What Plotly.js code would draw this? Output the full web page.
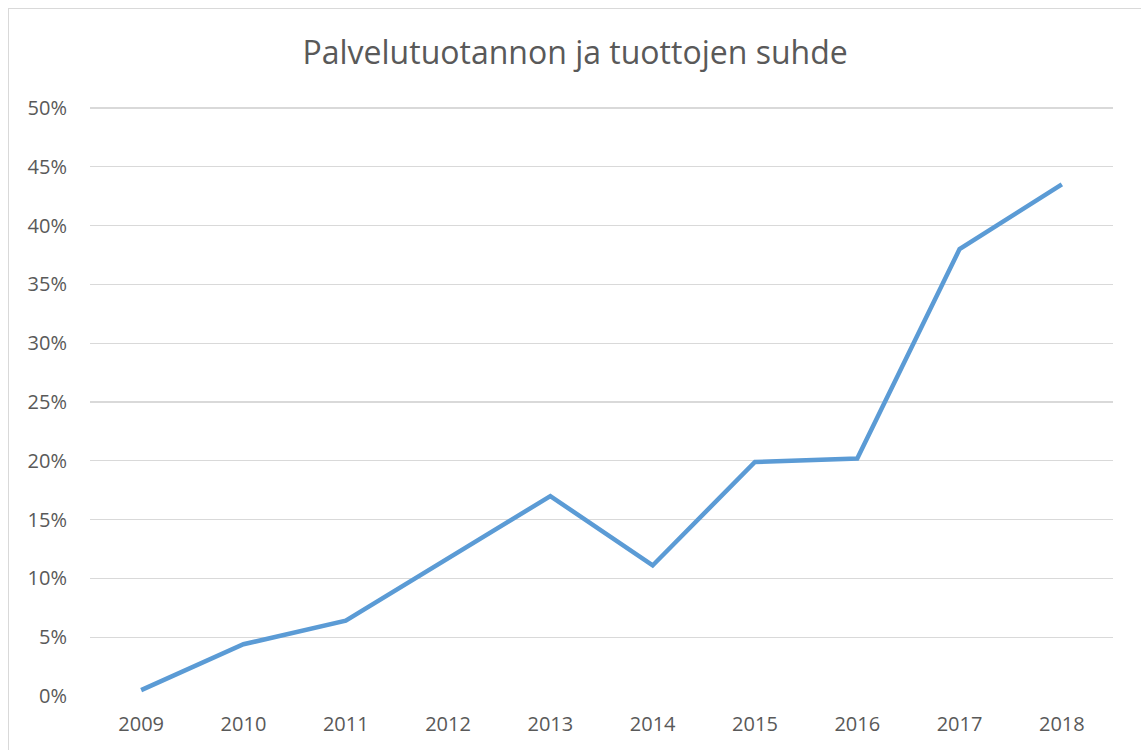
<!DOCTYPE html>
<html>
<head>
<meta charset="utf-8">
<script src="https://cdn.plot.ly/plotly-3.0.1.min.js"></script>
<style>
html,body{margin:0;padding:0;background:#fff;overflow:hidden;}
#frame{position:absolute;left:8px;top:8px;width:1200px;height:800px;border:1px solid #d9d9d9;box-sizing:border-box;}
#chart{position:absolute;left:0;top:0;width:1141px;height:750px;}
</style>
</head>
<body>
<div id="frame"></div>
<div id="chart"></div>
<script>
var years = ["2009","2010","2011","2012","2013","2014","2015","2016","2017","2018"];
var ratio = [0.005, 0.044, 0.064, 0.117, 0.170, 0.111, 0.199, 0.202, 0.380, 0.435];
var yTicks = [0,0.05,0.10,0.15,0.20,0.25,0.30,0.35,0.40,0.45,0.50];
var yTickText = ["0%","5%","10%","15%","20%","25%","30%","35%","40%","45%","50%"];

var trace = {
  x: years, y: ratio, type: "scatter", mode: "lines",
  line: {color: "#5b9bd5", width: 4.5, shape: "linear"},
  hoverinfo: "skip", cliponaxis: false
};
var layout = {
  width: 1141, height: 750,
  margin: {l: 90, r: 28, t: 106, b: 54},
  paper_bgcolor: "rgba(0,0,0,0)", plot_bgcolor: "rgba(0,0,0,0)",
  showlegend: false,
  font: {family: "Open Sans, sans-serif", color: "#595959"},
  title: {text: "Palvelutuotannon ja tuottojen suhde", x: 0.504, xanchor: "center", y: 0.93, yanchor: "middle",
          font: {size: 32, color: "#595959", family: "Open Sans, sans-serif"}},
  xaxis: {type: "category", range: [-0.5, 9.5], showgrid: false, zeroline: false, showline: false,
          ticks: "", ticklabelstandoff: 14, tickfont: {size: 20, color: "#595959"}, fixedrange: true},
  yaxis: {range: [0, 0.5017], tickvals: yTicks, ticktext: yTickText, showgrid: true, gridcolor: "#d9d9d9", gridwidth: 1.3,
          zeroline: false, showline: false, ticks: "", ticklabelstandoff: 22, tickfont: {size: 20, color: "#595959"}, fixedrange: true}
};
Plotly.newPlot("chart", [trace], layout, {displayModeBar: false, staticPlot: true});
</script>
</body>
</html>
